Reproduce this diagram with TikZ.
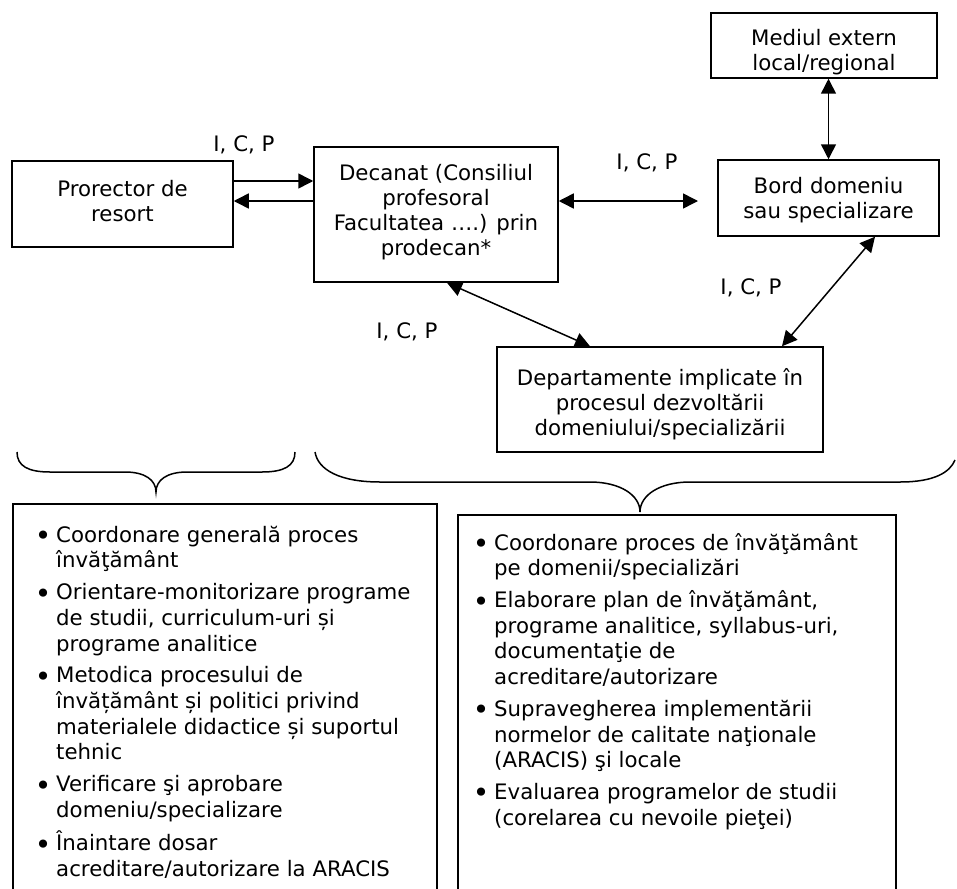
\documentclass[tikz,border=0pt]{standalone}
\usepackage{fontspec}
\setmainfont{DejaVu Sans}
\usetikzlibrary{arrows.meta,calc}
\newcommand{\boxfont}{\fontsize{21.3}{25}\selectfont}
\newcommand{\listfont}{\fontsize{21.3}{25.7}\selectfont}
\newcommand{\bt}{\makebox[21.3pt][l]{\raisebox{-3.5pt}{\fontsize{28}{25}\selectfont\textbullet}}}
\newcommand{\itemgap}{\\[6pt]}
\begin{document}
\begin{tikzpicture}[x=1pt,y=-1pt,
  box/.style={draw, line width=1.5pt, inner sep=0pt},
  boxtext/.style={inner sep=0pt, align=center, font=\boxfont},
  frame/.style={draw, line width=1.5pt, inner sep=0pt, anchor=north west},
  conn/.style={line width=1.5pt},
  lbl/.style={font=\boxfont, inner sep=0pt},
  brace/.style={line width=1.5pt},
  lst/.style={anchor=north west, inner sep=0pt, font=\listfont},
  >={Triangle[length=15pt,width=15pt]}]
\useasboundingbox (0,0) rectangle (957,888);
\clip (0,0) rectangle (957,888);

% boxes of the upper chart
\node[box, minimum width=221pt, minimum height=86pt] (pror) at (122.5,204) {};
\node[box, minimum width=244pt, minimum height=135pt] (dec) at (436,214.5) {};
\node[box, minimum width=226pt, minimum height=65pt] (med) at (824,45.5) {};
\node[box, minimum width=221pt, minimum height=76pt] (bord) at (828.5,198) {};
\node[box, minimum width=326pt, minimum height=105pt] (dep) at (660,399.5) {};

% their texts
\node[boxtext, yshift=3pt] (prort) at (pror.center) {Prorector de\\resort};
\node[boxtext, yshift=2pt] (dect) at (dec.center) {Decanat (Consiliul\\profesoral\\Facultatea ….) prin\\prodecan*};
\node[boxtext, yshift=-7pt] (medt) at (med.center) {Mediul extern\\local/regional};
\node[boxtext, yshift=-2.5pt] (bordt) at (bord.center) {Bord domeniu\\sau specializare};
\node[boxtext, yshift=-5pt] (dept) at (dep.center) {Departamente implicate în\\procesul dezvoltării\\domeniului/specializării};

% flow labels
\node[lbl] (l1) at (244,145) {I, C, P};
\node[lbl] (l2) at (647,163) {I, C, P};
\node[lbl] (l3) at (751,288) {I, C, P};
\node[lbl] (l4) at (407,332) {I, C, P};

% connectors
\coordinate (ya) at (0,181);
\coordinate (yb) at (0,201);
\coordinate (bordtip) at (698,201);
\draw[conn,->] (pror.east |- ya) -- (dec.west |- ya);
\draw[conn,<-] (pror.east |- yb) -- (dec.west |- yb);
\draw[conn,<->] (dec.east |- yb) -- (bordtip);
\draw[conn,<->] (bord.north) -- (bord.north |- med.south);
\draw[conn,<->] ($(dec.south)+(11,0)$) -- ($(dep.north)+(-70,0)$);
\draw[conn,<->] ($(bord.south)+(46.5,0)$) -- ($(dep.north)+(122,0)$);

% braces
\draw[brace] (17,452) .. controls (17,466) and (28,472) .. (50,472) -- (125,472)
  .. controls (145,472) and (156,480) .. (156,492)
  .. controls (156,480) and (167,472) .. (187,472) -- (262,472)
  .. controls (284,472) and (295,466) .. (295,452);
\draw[brace] (315,452) .. controls (318,470) and (340,482) .. (380,482) -- (590,482)
  .. controls (620,482) and (640,495) .. (640,512)
  .. controls (640,495) and (660,482) .. (690,482) -- (900,482)
  .. controls (935,482) and (950,472) .. (955,460);

% lower frames
\node[frame, minimum width=424pt, minimum height=400pt] (lbox) at (12,503) {};
\node[frame, minimum width=438pt, minimum height=400pt] (rbox) at (457,514) {};

\node[lst] (llist) at (34.7,524) {\begin{tabular}{@{}l@{}l@{}}
\bt & Coordonare generală proces\\
 & învăţământ\itemgap
\bt & Orientare-monitorizare programe\\
 & de studii, curriculum-uri și\\
 & programe analitice\itemgap
\bt & Metodica procesului de\\
 & învățământ și politici privind\\
 & materialele didactice și suportul\\
 & tehnic\itemgap
\bt & Verificare şi aprobare\\
 & domeniu/specializare\itemgap
\bt & Înaintare dosar\\
 & acreditare/autorizare la ARACIS
\end{tabular}};

\node[lst] (rlist) at (472.7,532) {\begin{tabular}{@{}l@{}l@{}}
\bt & Coordonare proces de învăţământ\\
 & pe domenii/specializări\itemgap
\bt & Elaborare plan de învăţământ,\\
 & programe analitice, syllabus-uri,\\
 & documentaţie de\\
 & acreditare/autorizare\itemgap
\bt & Supravegherea implementării\\
 & normelor de calitate naţionale\\
 & (ARACIS) şi locale\itemgap
\bt & Evaluarea programelor de studii\\
 & (corelarea cu nevoile pieţei)
\end{tabular}};
\end{tikzpicture}
\end{document}
